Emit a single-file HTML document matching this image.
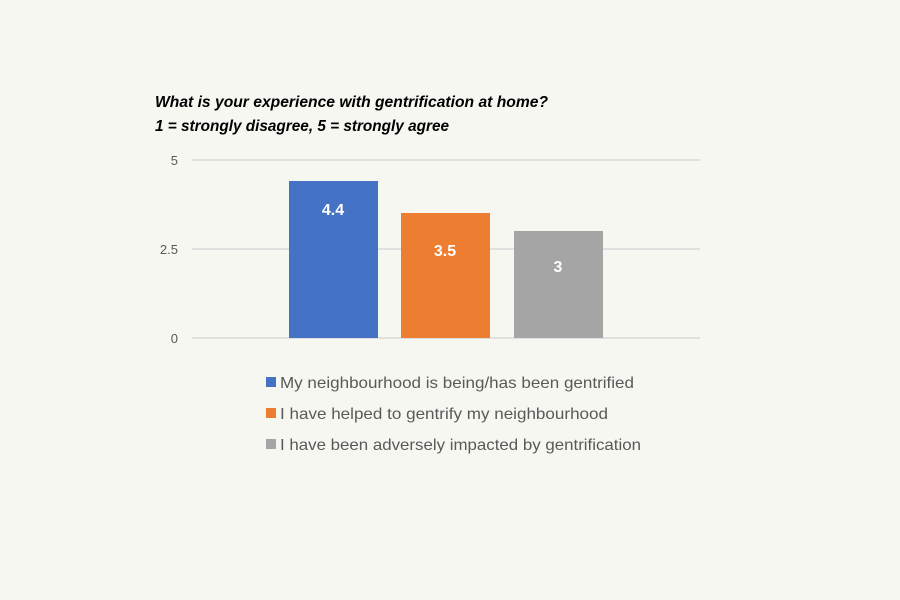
<!DOCTYPE html>
<html><head><style>body{margin:0;background:#f7f7f2;}svg{display:block}</style></head><body>
<svg width="900" height="600" xmlns="http://www.w3.org/2000/svg">
<rect width="900" height="600" fill="#f7f7f2"/>
<g font-family="Liberation Sans, sans-serif">
<text x="155" y="107" font-size="16" font-weight="bold" font-style="italic" fill="#000" textLength="393" lengthAdjust="spacingAndGlyphs">What is your experience with gentrification at home?</text>
<text x="155" y="131" font-size="16" font-weight="bold" font-style="italic" fill="#000" textLength="294" lengthAdjust="spacingAndGlyphs">1 = strongly disagree, 5 = strongly agree</text>
<g stroke="#d9d9d9" stroke-width="1.5">
<line x1="192" y1="160" x2="700" y2="160"/>
<line x1="192" y1="249" x2="700" y2="249"/>
<line x1="192" y1="338" x2="700" y2="338"/>
</g>
<g font-size="13" fill="#595959" text-anchor="end">
<text x="178" y="165">5</text>
<text x="178" y="254">2.5</text>
<text x="178" y="343">0</text>
</g>
<rect x="289" y="181" width="89" height="157" fill="#4472c4"/>
<rect x="401" y="213" width="89" height="125" fill="#ed7d31"/>
<rect x="514" y="231" width="89" height="107" fill="#a5a5a5"/>
<g font-size="16" font-weight="bold" fill="#fff" text-anchor="middle">
<text x="333" y="215">4.4</text>
<text x="445" y="256">3.5</text>
<text x="558" y="272">3</text>
</g>
<rect x="266" y="377" width="10" height="10" fill="#4472c4"/>
<rect x="266" y="408" width="10" height="10" fill="#ed7d31"/>
<rect x="266" y="439" width="10" height="10" fill="#a5a5a5"/>
<g font-size="16" fill="#595959">
<text x="280" y="388" textLength="354" lengthAdjust="spacingAndGlyphs">My neighbourhood is being/has been gentrified</text>
<text x="280" y="419" textLength="328" lengthAdjust="spacingAndGlyphs">I have helped to gentrify my neighbourhood</text>
<text x="280" y="450" textLength="361" lengthAdjust="spacingAndGlyphs">I have been adversely impacted by gentrification</text>
</g>
</g>
</svg>
</body></html>
